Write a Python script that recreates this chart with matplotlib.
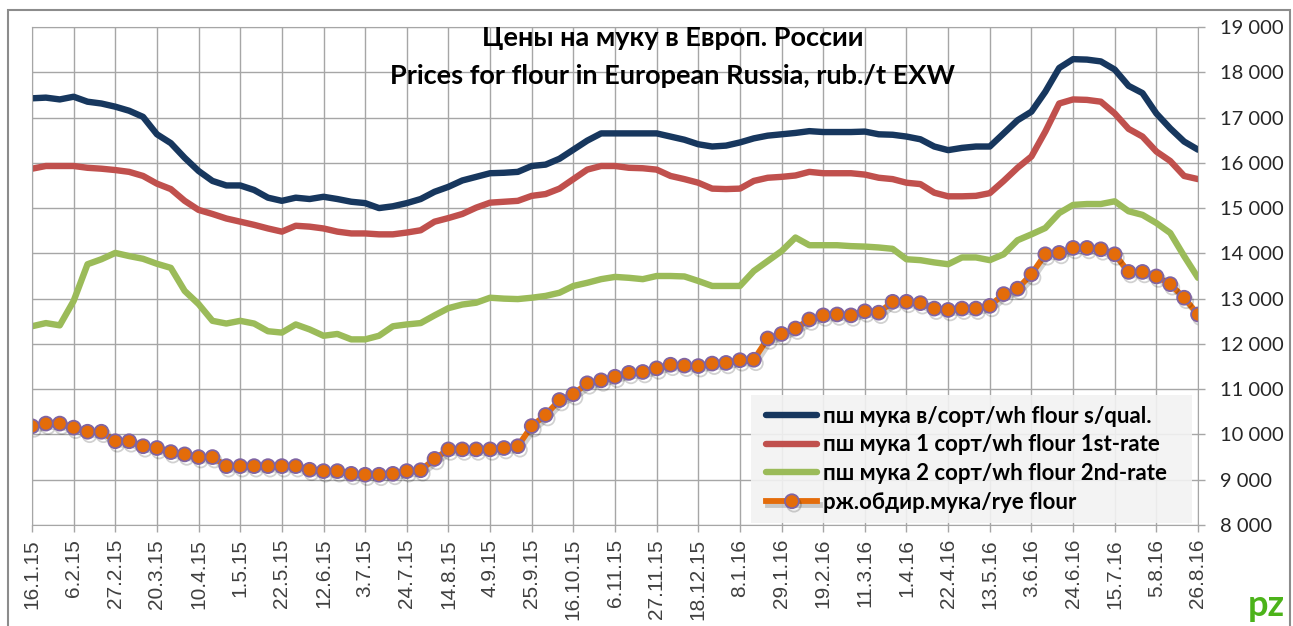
import numpy as np
import matplotlib.pyplot as plt
from matplotlib import patheffects as pe
from matplotlib.patches import Rectangle

tick_labels = ['16.1.15', '6.2.15', '27.2.15', '20.3.15', '10.4.15', '1.5.15', '22.5.15',
               '12.6.15', '3.7.15', '24.7.15', '14.8.15', '4.9.15', '25.9.15', '16.10.15',
               '6.11.15', '27.11.15', '18.12.15', '8.1.16', '29.1.16', '19.2.16', '11.3.16',
               '1.4.16', '22.4.16', '13.5.16', '3.6.16', '24.6.16', '15.7.16', '5.8.16', '26.8.16']

# weekly prices, rub./t
wh_squal = [17425, 17440, 17400, 17460, 17350, 17310, 17240, 17150, 17015, 16630, 16435, 16110,
            15820, 15600, 15500, 15500, 15400, 15230, 15160, 15230, 15200, 15250, 15200, 15140,
            15110, 15000, 15040, 15110, 15200, 15360, 15470,
            15610, 15690, 15770, 15780, 15800, 15930, 15960, 16090, 16290, 16490, 16650, 16650,
            16650, 16650, 16650, 16580, 16510, 16410, 16360, 16380, 16450, 16540, 16600, 16630,
            16660, 16700, 16680, 16680, 16680, 16690, 16630,
            16620, 16580, 16520, 16360, 16280, 16330, 16360, 16360, 16650, 16940, 17130, 17570,
            18095, 18290, 18280, 18240, 18060, 17700, 17540, 17090, 16760, 16470, 16290]
wh_1st = [15870, 15930, 15930, 15930, 15890, 15870, 15840, 15800, 15710, 15540, 15420, 15160,
          14960, 14870, 14770, 14700, 14630, 14550, 14480, 14610, 14590, 14550, 14480, 14440,
          14440, 14420, 14420, 14460, 14510, 14700, 14780,
          14870, 15010, 15120, 15140, 15160, 15270, 15310, 15430, 15640, 15850, 15930, 15930,
          15890, 15880, 15850, 15710, 15640, 15560, 15430, 15420, 15430, 15600, 15670, 15690,
          15720, 15800, 15770, 15770, 15770, 15740, 15670,
          15640, 15560, 15530, 15340, 15260, 15260, 15270, 15330, 15600, 15890, 16140, 16690,
          17310, 17400, 17390, 17350, 17090, 16750, 16580, 16250, 16040, 15710, 15640]
wh_2nd = [12390, 12460, 12410, 12950, 13760, 13870, 14010, 13940, 13880, 13770, 13680, 13170,
          12880, 12510, 12450, 12510, 12450, 12280, 12250, 12430, 12320, 12180, 12220, 12100,
          12100, 12180, 12390, 12430, 12460, 12630, 12790,
          12870, 12910, 13020, 13000, 12990, 13020, 13060, 13130, 13280, 13350, 13430, 13480,
          13460, 13430, 13500, 13500, 13490, 13390, 13280, 13280, 13280, 13610, 13830, 14050,
          14350, 14180, 14180, 14180, 14160, 14150, 14130,
          14100, 13870, 13850, 13800, 13760, 13910, 13910, 13850, 13980, 14290, 14420, 14560,
          14890, 15070, 15090, 15090, 15150, 14930, 14850, 14670, 14450, 13940, 13460]
rye = [10180, 10240, 10240, 10150, 10060, 10060, 9850, 9850, 9740, 9700, 9610, 9560,
       9500, 9500, 9300, 9300, 9300, 9300, 9300, 9300, 9220, 9190, 9190, 9130,
       9110, 9110, 9130, 9190, 9210, 9460, 9670,
       9670, 9670, 9670, 9700, 9740, 10185, 10430, 10760, 10890, 11130, 11195, 11275,
       11360, 11380, 11460, 11540, 11520, 11510, 11565, 11580, 11640, 11650, 12120, 12220,
       12340, 12540, 12630, 12650, 12630, 12720, 12690,
       12930, 12930, 12900, 12780, 12750, 12780, 12780, 12840, 13100, 13220, 13540, 13980,
       14010, 14120, 14120, 14090, 13980, 13590, 13590, 13490, 13320, 13020, 12650]

names = ['пш мука в/сорт/wh flour s/qual.', 'пш мука 1 сорт/wh flour 1st-rate',
         'пш мука 2 сорт/wh flour 2nd-rate', 'рж.обдир.мука/rye flour']

W, H = 1293, 626
x = np.arange(len(wh_squal))
cal = ['Lato', 'DejaVu Sans']

fig = plt.figure(figsize=(W / 100, H / 100), dpi=100)
fig.patches.append(Rectangle((8 / W, -0.1), (1290 - 8) / W, 1.1 - 10 / H, transform=fig.transFigure,
                             fill=False, edgecolor='#8c8c8c', lw=1.5))
ax = fig.add_axes([32 / W, 1 - 525 / H, (1198 - 32) / W, (525 - 27) / H])

ax.plot(x, wh_squal, color='#17375E', lw=4.6, solid_capstyle='round', label=names[0])
ax.plot(x, wh_1st, color='#C0504D', lw=4.6, solid_capstyle='round', label=names[1])
ax.plot(x, wh_2nd, color='#9BBB59', lw=4.6, solid_capstyle='round', label=names[2])
ax.plot(x, rye, color='#E46C0A', lw=4.2, marker='o', ms=10, mfc='#E46C0A', mec='#8064A2', mew=1.3,
        label=names[3],
        path_effects=[pe.SimpleLineShadow(offset=(1.5, -2.5), shadow_color='k', alpha=0.18), pe.Normal()])

ax.set_xlim(0, 84)
ax.set_ylim(8000, 19000)
ax.set_xticks(np.arange(0, 85, 3))
ax.set_xticklabels(tick_labels, rotation=90, fontsize=15, color='#404040', family='Liberation Sans')
yt = np.arange(8000, 19001, 1000)
ax.set_yticks(yt)
ax.set_yticklabels([f'{v:,}'.replace(',', ' ') for v in yt], fontsize=14.5, color='#262626', family=cal)
ax.yaxis.tick_right()
ax.tick_params(axis='both', direction='out', length=5, color='#a6a6a6', width=1)
ax.tick_params(axis='y', pad=11)
ax.tick_params(axis='x', pad=5)
ax.grid(color='#a6a6a6', lw=1)
ax.set_axisbelow(True)
for s in ax.spines.values():
    s.set_color('#a6a6a6')

# legend background box
ax.add_patch(Rectangle((0.6166, 0.004), 0.3783, 0.257, transform=ax.transAxes,
                       facecolor='#f2f2f2', edgecolor='none', alpha=0.9, zorder=4))
leg = ax.legend(loc='lower right', bbox_to_anchor=(0.982, 0.004), borderaxespad=0,
                prop={'family': cal, 'size': 16, 'weight': 'bold'}, handlelength=2.3,
                handletextpad=0.25, labelspacing=0.35, borderpad=0.45, frameon=False)
leg.set_zorder(5)

fig.text(673 / W, 1 - 38 / H, 'Цены на муку в Европ. России', ha='center', va='center',
         fontsize=19.5, weight='bold', family=cal)
fig.text(673 / W, 1 - 76 / H, 'Prices for flour in European Russia, rub./t EXW', ha='center', va='center',
         fontsize=19.5, weight='bold', family=cal)
fig.text(1266 / W, 1 - 606 / H, 'pz', ha='center', va='center', fontsize=26, weight='bold',
         color='#4CB31A', family=cal)

fig.savefig('out.png', dpi=100)
